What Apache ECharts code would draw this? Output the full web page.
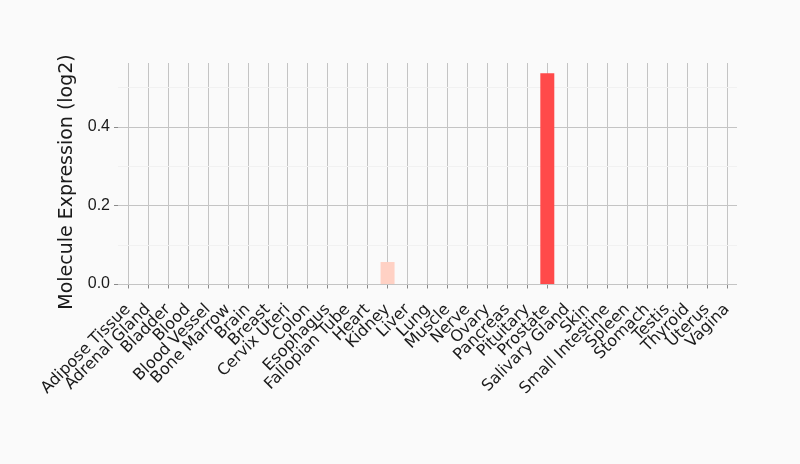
<!DOCTYPE html>
<html>
<head>
<meta charset="utf-8">
<script src="https://cdn.jsdelivr.net/npm/echarts@6/dist/echarts.min.js"></script>
<style>
  html, body { margin: 0; padding: 0; background: #fafafa; }
  #main { width: 800px; height: 464px; }
</style>
</head>
<body>
<div id="main"></div>
<script>
// tissues along the x axis
var tissues = ['Adipose Tissue', 'Adrenal Gland', 'Bladder', 'Blood', 'Blood Vessel',
  'Bone Marrow', 'Brain', 'Breast', 'Cervix Uteri', 'Colon', 'Esophagus',
  'Fallopian Tube', 'Heart', 'Kidney', 'Liver', 'Lung', 'Muscle', 'Nerve', 'Ovary',
  'Pancreas', 'Pituitary', 'Prostate', 'Salivary Gland', 'Skin', 'Small Intestine',
  'Spleen', 'Stomach', 'Testis', 'Thyroid', 'Uterus', 'Vagina'];
// expression values (log2)
var expression = [0, 0, 0, 0, 0, 0, 0, 0, 0, 0, 0, 0, 0, 0.056, 0, 0, 0, 0, 0, 0, 0,
  0.537, 0, 0, 0, 0, 0, 0, 0, 0, 0];
var yTicks = [0, 0.2, 0.4];
var yMinorLines = [0.1, 0.3, 0.5];

var chart = echarts.init(document.getElementById('main'));

var gridLines = yTicks.map(function (v) {
  return { yAxis: v, lineStyle: { color: '#c4c4c4', width: 1, type: 'solid' } };
}).concat(yMinorLines.map(function (v) {
  return { yAxis: v, lineStyle: { color: '#f1f1f1', width: 1, type: 'solid' } };
}));

chart.setOption({
  backgroundColor: '#fafafa',
  animation: false,
  grid: { left: 118, right: 63, top: 63, bottom: 175, containLabel: false },
  xAxis: {
    type: 'category',
    data: tissues,
    offset: 4,
    axisLine: { show: false },
    axisTick: { show: true, alignWithLabel: true, length: 4, lineStyle: { color: '#8a8a8a' } },
    splitLine: { show: true, alignWithLabel: true, lineStyle: { color: '#c4c4c4', width: 1 } },
    axisLabel: {
      interval: 0, rotate: 45, margin: 14,
      fontFamily: 'DejaVu Sans', fontSize: 16, color: '#1a1a1a'
    }
  },
  yAxis: {
    type: 'value',
    min: -0.0127,
    max: 0.563,
    name: 'Molecule Expression (log2)',
    nameLocation: 'middle',
    nameGap: 36,
    nameTextStyle: { fontFamily: 'DejaVu Sans', fontSize: 19, color: '#1a1a1a', padding: [0, 12, 0, 0] },
    axisLine: { show: false },
    splitLine: { show: false },
    axisTick: { show: true, customValues: yTicks, length: 4, lineStyle: { color: '#8a8a8a' } },
    axisLabel: {
      customValues: yTicks, margin: 8,
      fontFamily: 'Liberation Sans', fontSize: 16, color: '#1a1a1a',
      formatter: function (v) { return v.toFixed(1); }
    }
  },
  series: [{
    type: 'bar',
    data: expression,
    barCategoryGap: '30%',
    itemStyle: {
      color: function (p) { return p.value > 0.3 ? '#ff4a4a' : '#ffd1c4'; }
    },
    markLine: {
      silent: true,
      z: 1,
      symbol: 'none',
      label: { show: false },
      data: gridLines
    }
  }]
});
</script>
</body>
</html>
